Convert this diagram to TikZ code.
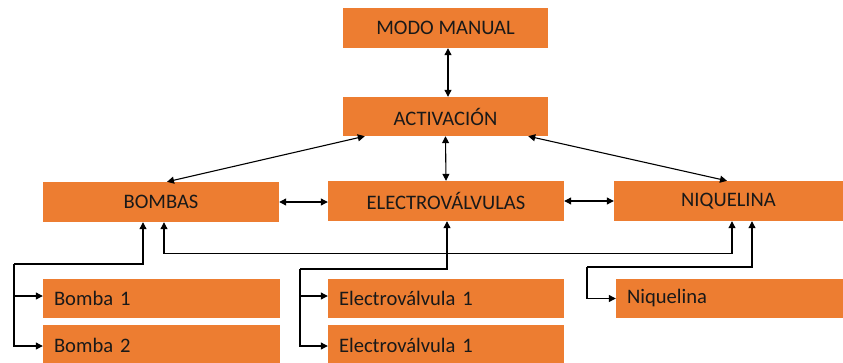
\documentclass[tikz,border=0pt]{standalone}
\usepackage{fontspec}
\setmainfont{Carlito}
\usetikzlibrary{arrows.meta,calc}
\definecolor{boxor}{HTML}{ED7D31}
\begin{document}
\begin{tikzpicture}[x=1pt,y=-1pt,
  box/.style={fill=boxor,draw=none,inner sep=0pt,text=black!90,font=\fontsize{20.6}{23}\selectfont},
  lbox/.style={box,align=left,inner xsep=11pt},
  conn/.style={line width=1.1pt,black},
  >={Triangle[length=7pt,width=7pt]}]
\useasboundingbox (0,0) rectangle (843,362);
\clip (0,0) rectangle (843,362);
% top
\node[box,minimum width=205pt,minimum height=40pt] (mm) at (445.5,28) {MODO MANUAL};
\node[box,minimum width=205pt,minimum height=39pt] (act) at (445.5,116.5) {ACTIVACIÓN};
% middle
\node[box,minimum width=236pt,minimum height=40pt] (bom) at (161,202) {BOMBAS};
\node[box,minimum width=236pt,minimum height=40pt] (ele) at (446,201) {ELECTROVÁLVULAS};
\node[box,minimum width=229pt,minimum height=40pt] (niq) at (728.5,201) {NIQUELINA};
% bottom
\node[lbox,text width=215pt,minimum height=39pt] (b1) at (161.5,298.5) {Bomba 1};
\node[lbox,text width=215pt,minimum height=40pt] (b2) at (161.5,345) {Bomba 2};
\node[lbox,text width=214pt,minimum height=39pt] (e1) at (446,298.5) {Electroválvula 1};
\node[lbox,text width=214pt,minimum height=40pt] (e2) at (446,345) {Electroválvula 1};
\node[lbox,text width=205pt,minimum height=39pt] (n1) at (729.5,298.5) {Niquelina};
% connectors
\draw[conn,<->] ([xshift=2.5pt]mm.south) -- ([xshift=2.5pt]act.north);
\draw[conn,<->] (act.south) -- (ele.north);
\draw[conn,<->] ([xshift=22pt]act.south west) -- ([xshift=6pt]bom.north);
\draw[conn,<->] ([xshift=-20pt]act.south east) -- ([xshift=-1.5pt]niq.north);
\draw[conn,<->] (bom.east) -- (bom.east -| ele.west);
\draw[conn,<->] (ele.east) -- (ele.east -| niq.west);
% bombas group
\coordinate (bj) at (14,264);
\draw[conn,->] (bj) -| ([xshift=-18pt]bom.south);
\draw[conn,->] (bj) |- ([yshift=2.5pt]b1.west);
\draw[conn,->] (bj) |- ([yshift=-1pt]b2.west);
% bombas - niquelina
\draw[conn,<->] ([xshift=3pt]bom.south) -- ++(0,31) -| ([xshift=3.5pt]niq.south);
% electrovalvulas group
\coordinate (ej) at (300,269);
\draw[conn,->] (ej) -| ([xshift=1pt]ele.south);
\draw[conn,->] (ej) |- ([yshift=2.5pt]e1.west);
\draw[conn,->] (ej) |- ([yshift=-1pt]e2.west);
% niquelina group
\coordinate (nj) at (587,267);
\draw[conn,->] (nj) -| ([xshift=23.5pt]niq.south);
\draw[conn,->] (nj) |- (n1.west);
\end{tikzpicture}
\end{document}
